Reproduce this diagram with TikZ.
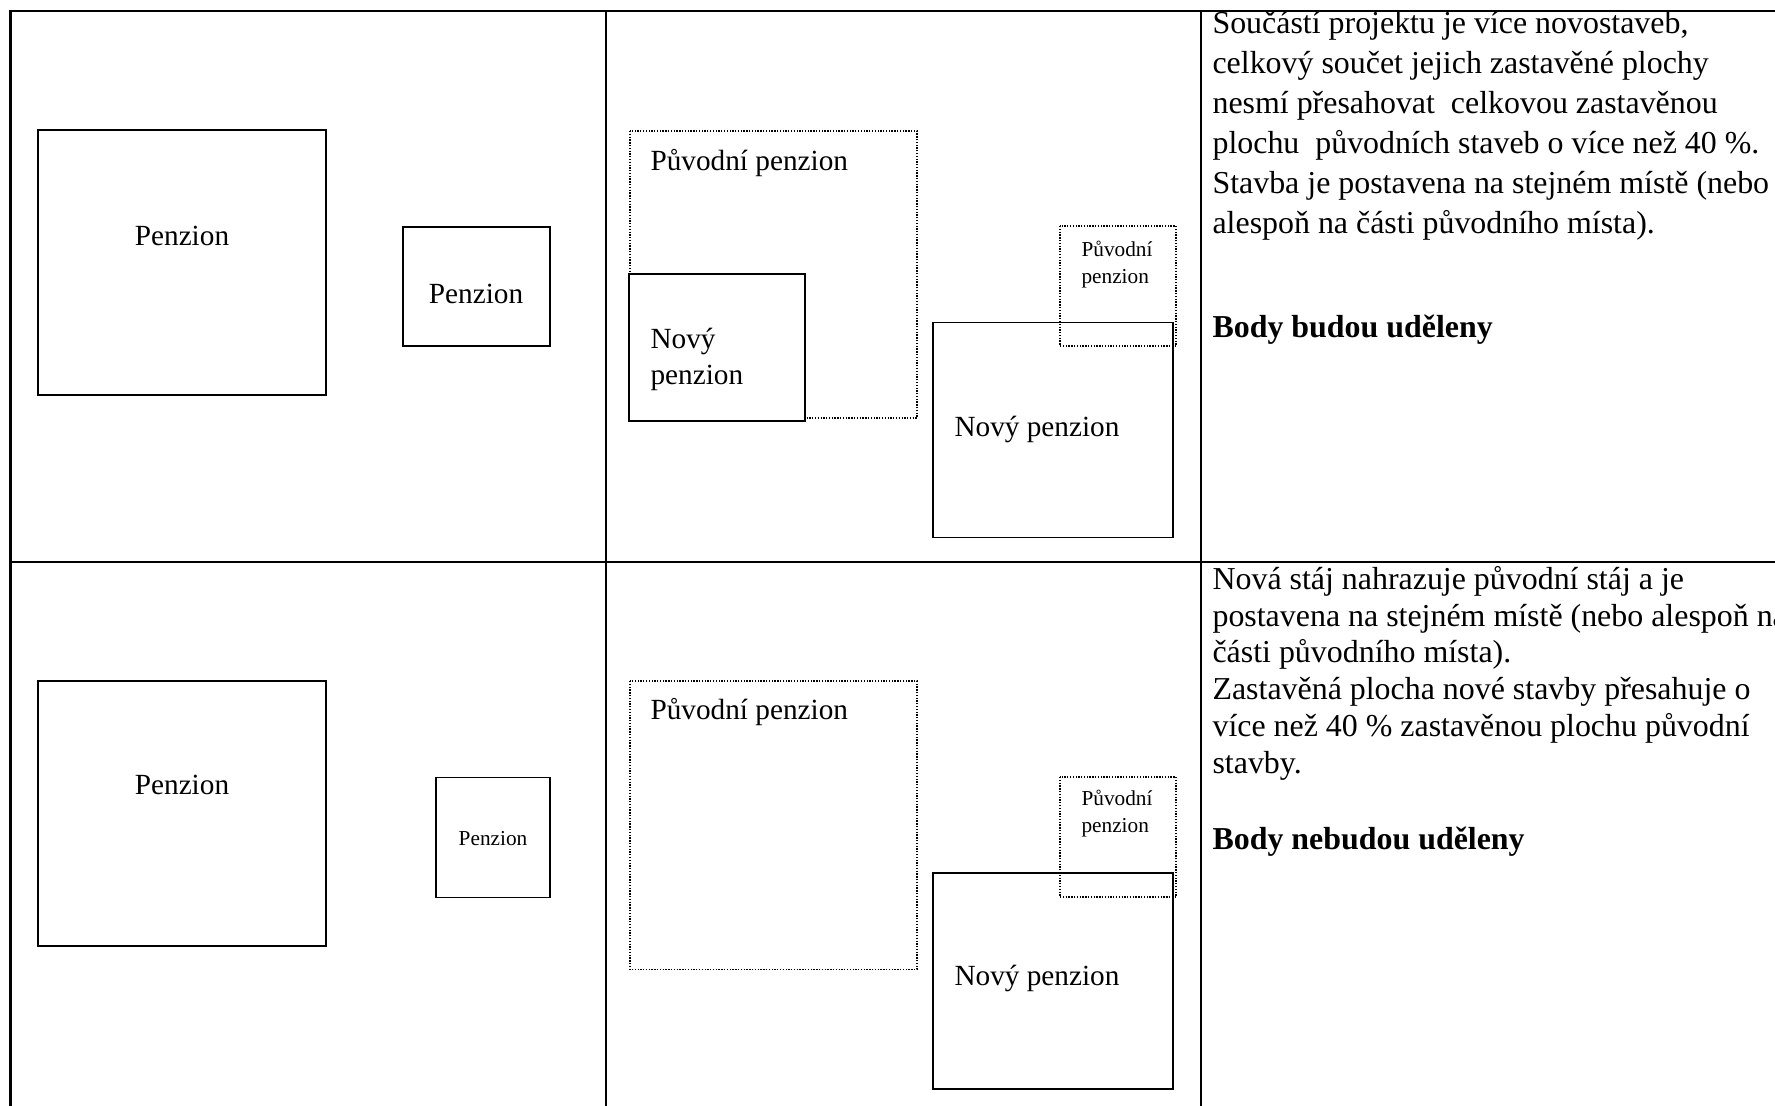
\documentclass[tikz,border=0pt]{standalone}
\usepackage{fontspec}
\setmainfont{Liberation Serif}

\begin{document}
\begin{tikzpicture}[x=0.376pt,y=-0.376pt,
  tableline/.style={line width=0.8pt},
  house/.style={draw,line width=0.6pt,fill=white},
  oldhouse/.style={draw,line width=0.5pt,dash pattern=on 0.5pt off 0.55pt},
  lbl/.style={inner sep=0pt,font=\fontsize{11}{13.5}\selectfont,align=left},
  lblsmall/.style={inner sep=0pt,font=\fontsize{8}{9.8}\selectfont,align=left},
  note/.style={inner sep=0pt,align=left,anchor=base west}]
  \useasboundingbox (0,0) rectangle (1775,1106);
  \clip (0,0) rectangle (1775,1106);
  \draw[tableline] (10.5,1200) -- (10.5,11) -- (1800,11);
  \draw[tableline] (10.5,562) -- (1800,562);
  \draw[tableline] (606,11) -- (606,1200);
  \draw[tableline] (1201,11) -- (1201,1200);

  \draw[house] (38,130) rectangle (326,395);
  \node[lbl,anchor=base] (p1) at (182,245) {Penzion};
  \draw[house] (403,227) rectangle (550,346);
  \node[lbl,anchor=base] (p2) at (476,303) {Penzion};
  \draw[oldhouse] (630,131) rectangle (917,418);
  \node[lbl,anchor=base west] (o1) at (650,170) {Původní penzion};
  \draw[house] (629,274) rectangle (805,421);
  \node[lbl,anchor=base west] (n1) at (650,384) {Nový\\penzion};
  \draw[house] (933,322.5) rectangle (1173,537.5);
  \node[lbl,anchor=base west] (n2) at (954,436) {Nový penzion};
  \draw[oldhouse] (1060,226) rectangle (1176,346);
  \node[lblsmall,anchor=base west] (o2) at (1081,283) {Původní\\penzion};
  \node[note,font=\fontsize{12}{15}\selectfont] (t1) at (1212,233)
    {Součástí projektu je více novostaveb,\\
     celkový součet jejich zastavěné plochy\\
     nesmí přesahovat\ \ celkovou zastavěnou\\
     plochu\ \ původních staveb o více než 40~\%.\\
     Stavba je postavena na stejném místě (nebo\\
     alespoň na části původního místa).};
  \node[note,font=\fontsize{12}{14}\selectfont\bfseries] (b1) at (1212,337) {Body budou uděleny};

  \draw[house] (38,681) rectangle (326,946);
  \node[lbl,anchor=base] (p3) at (182,794) {Penzion};
  \draw[house] (436,777.5) rectangle (550,897.5);
  \node[lblsmall,anchor=base] (p4) at (493,845) {Penzion};
  \draw[oldhouse] (630,681) rectangle (917,969.5);
  \node[lbl,anchor=base west] (o3) at (650,719) {Původní penzion};
  \draw[house] (933,873) rectangle (1173,1089);
  \node[lbl,anchor=base west] (n3) at (954,985) {Nový penzion};
  \draw[oldhouse] (1060,777) rectangle (1176,897);
  \node[lblsmall,anchor=base west] (o4) at (1081,832) {Původní\\penzion};
  \node[note,font=\fontsize{12}{13.8}\selectfont] (t2) at (1212,773)
    {Nová stáj nahrazuje původní stáj a je\\
     postavena na stejném místě (nebo alespoň na\\
     části původního místa).\\
     Zastavěná plocha nové stavby přesahuje o\\
     více než 40~\% zastavěnou plochu původní\\
     stavby.};
  \node[note,font=\fontsize{12}{14}\selectfont\bfseries] (b2) at (1212,849) {Body nebudou uděleny};
\end{tikzpicture}
\end{document}
